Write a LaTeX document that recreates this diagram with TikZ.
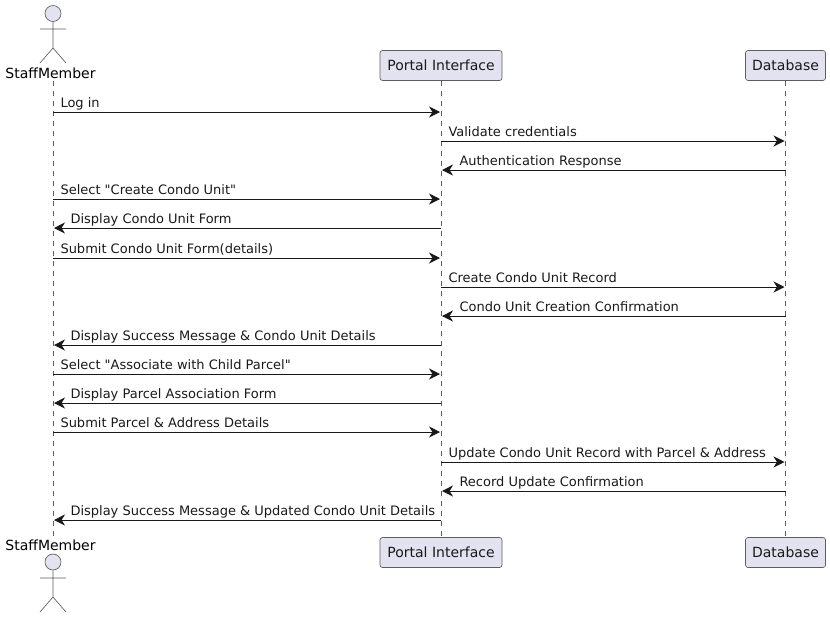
\documentclass[tikz,border=0pt]{standalone}
\usepackage{fontspec}
\setmainfont{DejaVu Sans}[Ligatures=TeXOff]
\usetikzlibrary{arrows.meta}

\definecolor{partfill}{HTML}{E2E2F0}
\definecolor{partline}{HTML}{181818}

\begin{document}
\begin{tikzpicture}[x=0.75pt, y=-0.75pt, font=\fontsize{10.5pt}{12pt}\selectfont,
  part/.style={draw=partline!70, line width=0.5pt, fill=partfill, rounded corners=1.9pt,
    minimum height=22.5pt, inner sep=0pt, text=black!90},
  head/.style={circle, draw=partline!70, line width=0.5pt, fill=partfill, minimum size=12pt, inner sep=0pt},
  limb/.style={draw=partline!70, line width=0.5pt},
  lifeline/.style={draw=partline!70, line width=0.4pt, dash pattern=on 3.75pt off 3.75pt},
  msg/.style={draw=partline, line width=0.75pt, shorten >=0.75pt,
    -{Stealth[length=8.25pt, width=8.25pt, inset=2.6pt]}},
  lbl/.style={anchor=base west, inner sep=0pt, text=black!90, font=\fontsize{9.75pt}{12pt}\selectfont}]
  \useasboundingbox (0,0) rectangle (830,618);

  % participants, top row
  \node[head] (headTop) at (53,13.5) {};
  \node[anchor=base, inner sep=0pt] (staffTop) at (50.5,78) {StaffMember};
  \node[part, minimum width=91.5pt] (portalTop) at (441,65.5) {Portal Interface};
  \node[part, minimum width=60pt] (dbTop) at (785.5,65.5) {Database};

  % participants, bottom row
  \node[head] (headBot) at (53,562) {};
  \node[anchor=base, inner sep=0pt] (staffBot) at (50.5,550) {StaffMember};
  \node[part, minimum width=91.5pt] (portalBot) at (441,552.5) {Portal Interface};
  \node[part, minimum width=60pt] (dbBot) at (785.5,552.5) {Database};

  % stick figures
  \draw[limb] (headTop.south) -- (53,48) (40,29) -- (66,29) (40,63) -- (53,48) -- (66,63);
  \draw[limb] (headBot.south) -- (53,597) (40,578) -- (66,578) (40,612) -- (53,597) -- (66,612);

  % lifelines
  \coordinate (staffA) at (53,81);
  \coordinate (staffB) at (53,537);
  \draw[lifeline] (staffA) -- (staffB);
  \draw[lifeline] (portalTop.south) -- (portalBot.north);
  \draw[lifeline] (dbTop.south) -- (dbBot.north);

  % message heights
  \coordinate (m1) at (0,112);
  \coordinate (m2) at (0,141);
  \coordinate (m3) at (0,170);
  \coordinate (m4) at (0,199);
  \coordinate (m5) at (0,228);
  \coordinate (m6) at (0,258);
  \coordinate (m7) at (0,287);
  \coordinate (m8) at (0,316);
  \coordinate (m9) at (0,345);
  \coordinate (m10) at (0,374);
  \coordinate (m11) at (0,403);
  \coordinate (m12) at (0,432);
  \coordinate (m13) at (0,462);
  \coordinate (m14) at (0,491);
  \coordinate (m15) at (0,520);

  % messages
  \draw[msg] (staffA |- m1) -- (portalTop |- m1) node[lbl, pos=0, xshift=5.25pt, yshift=3.75pt] (t1) {Log in};
  \draw[msg] (portalTop |- m2) -- (dbTop |- m2) node[lbl, pos=0, xshift=5.25pt, yshift=3.75pt] (t2) {Validate credentials};
  \draw[msg] (dbTop |- m3) -- (portalTop |- m3) node[lbl, pos=1, xshift=13.5pt, yshift=3.75pt] (t3) {Authentication Response};
  \draw[msg] (staffA |- m4) -- (portalTop |- m4) node[lbl, pos=0, xshift=5.25pt, yshift=3.75pt] (t4) {Select "Create Condo Unit"};
  \draw[msg] (portalTop |- m5) -- (staffA |- m5) node[lbl, pos=1, xshift=12.75pt, yshift=3.75pt] (t5) {Display Condo Unit Form};
  \draw[msg] (staffA |- m6) -- (portalTop |- m6) node[lbl, pos=0, xshift=5.25pt, yshift=3.75pt] (t6) {Submit Condo Unit Form(details)};
  \draw[msg] (portalTop |- m7) -- (dbTop |- m7) node[lbl, pos=0, xshift=5.25pt, yshift=3.75pt] (t7) {Create Condo Unit Record};
  \draw[msg] (dbTop |- m8) -- (portalTop |- m8) node[lbl, pos=1, xshift=13.5pt, yshift=3.75pt] (t8) {Condo Unit Creation Confirmation};
  \draw[msg] (portalTop |- m9) -- (staffA |- m9) node[lbl, pos=1, xshift=12.75pt, yshift=3.75pt] (t9) {Display Success Message \& Condo Unit Details};
  \draw[msg] (staffA |- m10) -- (portalTop |- m10) node[lbl, pos=0, xshift=5.25pt, yshift=3.75pt] (t10) {Select "Associate with Child Parcel"};
  \draw[msg] (portalTop |- m11) -- (staffA |- m11) node[lbl, pos=1, xshift=12.75pt, yshift=3.75pt] (t11) {Display Parcel Association Form};
  \draw[msg] (staffA |- m12) -- (portalTop |- m12) node[lbl, pos=0, xshift=5.25pt, yshift=3.75pt] (t12) {Submit Parcel \& Address Details};
  \draw[msg] (portalTop |- m13) -- (dbTop |- m13) node[lbl, pos=0, xshift=5.25pt, yshift=3.75pt] (t13) {Update Condo Unit Record with Parcel \& Address};
  \draw[msg] (dbTop |- m14) -- (portalTop |- m14) node[lbl, pos=1, xshift=13.5pt, yshift=3.75pt] (t14) {Record Update Confirmation};
  \draw[msg] (portalTop |- m15) -- (staffA |- m15) node[lbl, pos=1, xshift=12.75pt, yshift=3.75pt] (t15) {Display Success Message \& Updated Condo Unit Details};
\end{tikzpicture}
\end{document}
